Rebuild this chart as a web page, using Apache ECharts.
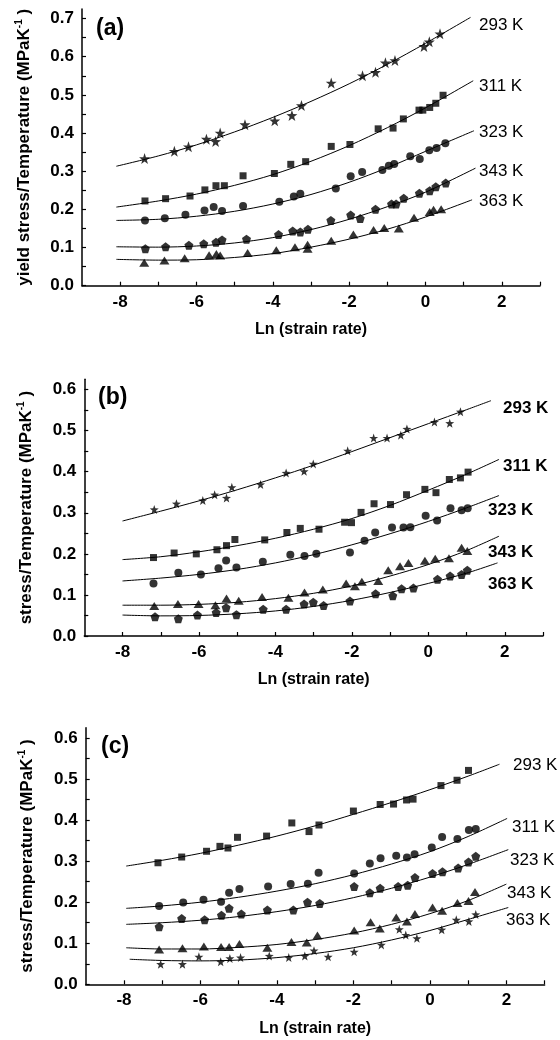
<!DOCTYPE html>
<html>
<head>
<meta charset="utf-8">
<script src="https://cdn.jsdelivr.net/npm/echarts@6/dist/echarts.min.js"></script>
<style>
  html, body { margin: 0; padding: 0; background: #fff; }
  #chart { width: 560px; height: 1040px; }
</style>
</head>
<body>
<div id="chart"></div>
<script>
// ---- Panel (a): yield stress / temperature vs ln(strain rate) ----
const a293 = [[-7.36,0.333],[-6.58,0.352],[-6.21,0.364],[-5.74,0.384],[-5.50,0.378],[-5.38,0.400],[-4.73,0.422],[-3.95,0.432],[-3.50,0.446],[-3.25,0.472],[-2.47,0.531],[-1.65,0.550],[-1.31,0.559],[-1.05,0.584],[-0.80,0.590],[-0.04,0.627],[0.10,0.639],[0.38,0.660]];
const a311 = [[-7.35,0.222],[-6.81,0.228],[-6.17,0.235],[-5.78,0.251],[-5.49,0.262],[-5.27,0.262],[-4.78,0.288],[-3.96,0.294],[-3.53,0.318],[-3.14,0.325],[-2.47,0.365],[-1.98,0.370],[-1.24,0.411],[-0.85,0.413],[-0.58,0.437],[-0.17,0.460],[-0.07,0.460],[0.11,0.467],[0.27,0.478],[0.46,0.499]];
const a323 = [[-7.35,0.171],[-6.83,0.177],[-6.29,0.186],[-5.79,0.197],[-5.55,0.206],[-5.33,0.196],[-4.78,0.209],[-3.83,0.220],[-3.45,0.234],[-3.28,0.241],[-2.35,0.255],[-1.96,0.287],[-1.66,0.298],[-1.13,0.303],[-0.96,0.314],[-0.82,0.319],[-0.40,0.339],[-0.15,0.332],[0.10,0.355],[0.29,0.361],[0.52,0.373]];
const a343 = [[-7.34,0.097],[-6.81,0.102],[-6.20,0.106],[-5.81,0.110],[-5.49,0.114],[-5.33,0.120],[-4.69,0.122],[-3.85,0.134],[-3.48,0.143],[-3.28,0.141],[-3.08,0.148],[-2.48,0.171],[-1.96,0.185],[-1.71,0.176],[-1.31,0.200],[-0.89,0.214],[-0.77,0.214],[-0.57,0.229],[-0.16,0.242],[0.11,0.249],[0.27,0.259],[0.53,0.269]];
const a363 = [[-7.37,0.060],[-6.84,0.066],[-6.31,0.072],[-5.67,0.080],[-5.48,0.083],[-5.38,0.079],[-4.66,0.086],[-3.91,0.093],[-3.42,0.101],[-3.09,0.107],[-3.09,0.097],[-2.47,0.118],[-1.89,0.134],[-1.36,0.146],[-1.08,0.151],[-0.70,0.150],[-0.30,0.178],[0.11,0.193],[0.21,0.199],[0.41,0.200]];
const a293Fit = [[-8.1,0.313],[-7,0.340],[-6,0.369],[-5,0.403],[-4,0.441],[-3,0.483],[-2,0.529],[-1,0.580],[0,0.635],[1.18,0.703]];
const a311Fit = [[-8.1,0.206],[-7,0.222],[-6,0.240],[-5,0.263],[-4,0.291],[-3,0.326],[-2,0.367],[-1,0.414],[0,0.466],[1.25,0.537]];
const a323Fit = [[-8.1,0.171],[-7,0.174],[-6,0.182],[-5,0.195],[-4,0.214],[-3,0.239],[-2,0.271],[-1,0.309],[0,0.352],[1.27,0.406]];
const a343Fit = [[-8.1,0.102],[-7,0.101],[-6,0.104],[-5,0.112],[-4,0.126],[-3,0.147],[-2,0.174],[-1,0.207],[0,0.245],[1.31,0.308]];
const a363Fit = [[-8.1,0.069],[-7,0.067],[-6,0.068],[-5,0.074],[-4,0.084],[-3,0.101],[-2,0.122],[-1,0.148],[0,0.180],[1.22,0.225]];

// ---- Panel (b) ----
const b293 = [[-7.17,0.308],[-6.59,0.322],[-5.90,0.330],[-5.59,0.344],[-5.28,0.336],[-5.14,0.362],[-4.39,0.369],[-3.72,0.397],[-3.25,0.401],[-3.01,0.419],[-2.11,0.451],[-1.43,0.482],[-1.08,0.482],[-0.72,0.489],[-0.56,0.504],[0.16,0.521],[0.56,0.518],[0.84,0.546]];
const b311 = [[-7.19,0.191],[-6.65,0.202],[-6.07,0.200],[-5.53,0.210],[-5.28,0.220],[-5.06,0.235],[-4.28,0.234],[-3.70,0.252],[-3.35,0.262],[-2.86,0.260],[-2.19,0.277],[-2.01,0.276],[-1.76,0.301],[-1.42,0.322],[-0.99,0.320],[-0.57,0.344],[-0.09,0.357],[0.20,0.349],[0.55,0.381],[0.84,0.385],[1.04,0.399]];
const b323 = [[-7.19,0.128],[-6.54,0.154],[-5.95,0.150],[-5.49,0.165],[-5.29,0.184],[-5.02,0.167],[-4.33,0.181],[-3.61,0.198],[-3.24,0.195],[-2.93,0.200],[-2.05,0.203],[-1.67,0.232],[-1.39,0.252],[-0.95,0.264],[-0.65,0.264],[-0.47,0.265],[-0.07,0.293],[0.23,0.281],[0.58,0.311],[0.87,0.306],[1.03,0.311]];
const b343 = [[-7.17,0.073],[-6.55,0.078],[-6.01,0.078],[-5.57,0.075],[-5.28,0.091],[-4.96,0.086],[-4.35,0.095],[-3.66,0.093],[-3.24,0.106],[-2.76,0.113],[-2.15,0.128],[-1.92,0.121],[-1.74,0.132],[-1.31,0.134],[-1.05,0.160],[-0.74,0.170],[-0.52,0.178],[-0.09,0.183],[0.18,0.188],[0.54,0.189],[0.87,0.215],[1.02,0.207]];
const b363 = [[-7.15,0.047],[-6.54,0.042],[-6.04,0.051],[-5.55,0.057],[-5.29,0.069],[-5.02,0.052],[-4.32,0.065],[-3.72,0.065],[-3.25,0.078],[-3.01,0.082],[-2.74,0.074],[-2.05,0.085],[-1.38,0.103],[-0.93,0.098],[-0.70,0.115],[-0.39,0.117],[0.24,0.138],[0.57,0.146],[0.87,0.150],[1.02,0.160]];
const b293Fit = [[-8,0.280],[-7,0.304],[-6,0.329],[-5,0.356],[-4,0.385],[-3,0.416],[-2,0.449],[-1,0.483],[0,0.517],[1,0.551],[1.64,0.573]];
const b311Fit = [[-8,0.186],[-7,0.193],[-6,0.205],[-5,0.220],[-4,0.238],[-3,0.260],[-2,0.286],[-1,0.318],[0,0.355],[1,0.394],[1.85,0.430]];
const b323Fit = [[-8,0.134],[-7,0.141],[-6,0.150],[-5,0.162],[-4,0.178],[-3,0.198],[-2,0.222],[-1,0.249],[0,0.279],[1,0.312],[1.85,0.342]];
const b343Fit = [[-8,0.075],[-7,0.075],[-6,0.077],[-5,0.082],[-4,0.091],[-3,0.104],[-2,0.122],[-1,0.146],[0,0.174],[1,0.208],[1.85,0.243]];
const b363Fit = [[-8,0.051],[-7,0.049],[-6,0.050],[-5,0.054],[-4,0.061],[-3,0.072],[-2,0.087],[-1,0.106],[0,0.128],[1,0.153],[1.81,0.178]];

// ---- Panel (c) ----
const c293 = [[-7.11,0.296],[-6.49,0.310],[-5.84,0.324],[-5.49,0.336],[-5.28,0.332],[-5.03,0.358],[-4.27,0.361],[-3.61,0.393],[-3.16,0.372],[-2.90,0.388],[-2.00,0.422],[-1.30,0.438],[-0.95,0.439],[-0.61,0.449],[-0.44,0.451],[0.29,0.484],[0.71,0.497],[1.01,0.521]];
const c311 = [[-7.08,0.191],[-6.45,0.199],[-5.92,0.206],[-5.46,0.201],[-5.25,0.223],[-4.98,0.232],[-4.23,0.238],[-3.64,0.244],[-3.19,0.245],[-2.91,0.272],[-1.98,0.270],[-1.57,0.294],[-1.29,0.307],[-0.88,0.313],[-0.60,0.309],[-0.40,0.317],[0.05,0.333],[0.32,0.359],[0.72,0.354],[1.02,0.376],[1.20,0.378]];
const c323 = [[-7.08,0.140],[-6.49,0.160],[-5.89,0.157],[-5.45,0.168],[-5.25,0.185],[-4.93,0.171],[-4.25,0.181],[-3.57,0.181],[-3.20,0.200],[-2.88,0.197],[-1.98,0.238],[-1.57,0.223],[-1.30,0.234],[-0.83,0.238],[-0.58,0.241],[-0.39,0.260],[0.07,0.270],[0.33,0.274],[0.74,0.283],[1.01,0.298],[1.20,0.312]];
const c343 = [[-7.08,0.085],[-6.47,0.088],[-5.91,0.092],[-5.46,0.091],[-5.25,0.091],[-4.98,0.098],[-4.25,0.089],[-3.62,0.103],[-3.22,0.102],[-2.94,0.119],[-1.98,0.131],[-1.55,0.151],[-1.31,0.136],[-0.88,0.163],[-0.60,0.153],[-0.39,0.171],[0.07,0.187],[0.32,0.179],[0.72,0.198],[1.01,0.203],[1.18,0.225]];
const c363 = [[-7.04,0.049],[-6.47,0.049],[-6.04,0.067],[-5.47,0.055],[-5.23,0.063],[-4.95,0.065],[-4.20,0.069],[-3.69,0.065],[-3.27,0.069],[-3.03,0.082],[-2.66,0.067],[-1.98,0.079],[-1.27,0.096],[-0.80,0.134],[-0.63,0.120],[-0.34,0.112],[0.31,0.133],[0.69,0.157],[1.02,0.153],[1.20,0.170]];
const c293Fit = [[-7.94,0.288],[-7,0.302],[-6,0.319],[-5,0.339],[-4,0.361],[-3,0.386],[-2,0.414],[-1,0.443],[0,0.474],[1,0.507],[1.82,0.536]];
const c311Fit = [[-7.94,0.185],[-7,0.191],[-6,0.200],[-5,0.212],[-4,0.227],[-3,0.245],[-2,0.267],[-1,0.293],[0,0.323],[1,0.360],[2.02,0.404]];
const c323Fit = [[-7.94,0.146],[-7,0.150],[-6,0.156],[-5,0.165],[-4,0.177],[-3,0.192],[-2,0.211],[-1,0.234],[0,0.261],[1,0.292],[2.05,0.328]];
const c343Fit = [[-7.94,0.089],[-7,0.086],[-6,0.086],[-5,0.090],[-4,0.097],[-3,0.109],[-2,0.125],[-1,0.146],[0,0.172],[1,0.204],[2.0,0.244]];
const c363Fit = [[-7.85,0.061],[-7,0.058],[-6,0.057],[-5,0.059],[-4,0.065],[-3,0.075],[-2,0.089],[-1,0.108],[0,0.131],[1,0.158],[2.05,0.187]];

// ---- Axis ticks and labels ----
const xTickMarks = [-8,-7,-6,-5,-4,-3,-2,-1,0,1,2,3];
const xTickLabels = [-8,-6,-4,-2,0,2];
const yTickMarksA = [0,0.05,0.1,0.15,0.2,0.25,0.3,0.35,0.4,0.45,0.5,0.55,0.6,0.65,0.7];
const yTickLabelsA = [0,0.1,0.2,0.3,0.4,0.5,0.6,0.7];
const yTickMarksBC = [0,0.05,0.1,0.15,0.2,0.25,0.3,0.35,0.4,0.45,0.5,0.55,0.6];
const yTickLabelsBC = [0,0.1,0.2,0.3,0.4,0.5,0.6];
const temps = ['293 K','311 K','323 K','343 K','363 K'];

const FONT = '"Liberation Sans", Arial, Helvetica, sans-serif';
const STAR = 'path://M50 0L61.76 33.82L97.55 34.55L69.02 56.18L79.39 90.45L50 70L20.61 90.45L30.98 56.18L2.45 34.55L38.24 33.82Z';
const PENTA = 'path://M50 0L97.55 34.55L79.39 90.45L20.61 90.45L2.45 34.55Z';
const SYM = {
  star: [STAR, 11], starS: [STAR, 9], rect: ['rect', 7], circle: ['circle', 8],
  penta: [PENTA, 9], tri: ['triangle', [10, 8]]
};

const grids = [
  { left: 82, top: 9, width: 458, height: 276.7 },
  { left: 84.3, top: 379.3, width: 458.7, height: 256.7 },
  { left: 85.7, top: 727.7, width: 458.9, height: 256.6 }
];

function xAxis(i) {
  return {
    type: 'value', gridIndex: i, min: -9, max: 3,
    axisLine: { onZero: false, lineStyle: { color: '#000', width: 1.5 } },
    axisTick: { inside: true, length: 4, customValues: xTickMarks, lineStyle: { color: '#000', width: 1.2 } },
    axisLabel: { customValues: xTickLabels, color: '#000', fontSize: 17, fontWeight: 'bold', fontFamily: FONT, margin: 8 },
    splitLine: { show: false },
    name: 'Ln (strain rate)', nameLocation: 'middle', nameGap: 36,
    nameTextStyle: { color: '#000', fontSize: 16, fontWeight: 'bold', fontFamily: FONT }
  };
}
function yAxis(i, max, marks, labels, title) {
  return {
    type: 'value', gridIndex: i, min: 0, max: max,
    axisLine: { onZero: false, lineStyle: { color: '#000', width: 1.5 } },
    axisTick: { inside: true, length: 4, customValues: marks, lineStyle: { color: '#000', width: 1.2 } },
    axisLabel: { customValues: labels, color: '#000', fontSize: 17, fontWeight: 'bold', fontFamily: FONT, margin: 8,
      formatter: v => v.toFixed(1) },
    splitLine: { show: false },
    name: '{t|' + title + ' (MPaK}{s|-1}{t| )}', nameLocation: 'middle', nameGap: 48, nameRotate: 90,
    nameTextStyle: {
      color: '#000', fontFamily: FONT,
      rich: {
        t: { fontSize: 17, fontWeight: 'bold', fontFamily: FONT, color: '#000' },
        s: { fontSize: 10, fontWeight: 'bold', fontFamily: FONT, color: '#000', verticalAlign: 'top', padding: [0, 0, 10, 0] }
      }
    }
  };
}

function pts(i, data, sym) {
  return {
    type: 'scatter', xAxisIndex: i, yAxisIndex: i, data: data,
    symbol: SYM[sym][0], symbolSize: SYM[sym][1],
    itemStyle: { color: '#000' }, silent: true, z: 3
  };
}
function fit(i, data) {
  return {
    type: 'line', xAxisIndex: i, yAxisIndex: i, data: data, smooth: 0.3,
    showSymbol: false, symbol: 'none', lineStyle: { color: '#000', width: 1 }, silent: true, z: 2
  };
}

const series = [
  pts(0, a293, 'star'), pts(0, a311, 'rect'), pts(0, a323, 'circle'), pts(0, a343, 'penta'), pts(0, a363, 'tri'),
  fit(0, a293Fit), fit(0, a311Fit), fit(0, a323Fit), fit(0, a343Fit), fit(0, a363Fit),
  pts(1, b293, 'starS'), pts(1, b311, 'rect'), pts(1, b323, 'circle'), pts(1, b343, 'tri'), pts(1, b363, 'penta'),
  fit(1, b293Fit), fit(1, b311Fit), fit(1, b323Fit), fit(1, b343Fit), fit(1, b363Fit),
  pts(2, c293, 'rect'), pts(2, c311, 'circle'), pts(2, c323, 'penta'), pts(2, c343, 'tri'), pts(2, c363, 'starS'),
  fit(2, c293Fit), fit(2, c311Fit), fit(2, c323Fit), fit(2, c343Fit), fit(2, c363Fit)
];

// Temperature labels beside each fitted curve, and panel letters
function txt(x, y, s, size, bold) {
  return { type: 'text', x: x, y: y, silent: true,
    style: { text: s, fill: '#000', font: (bold ? 'bold ' : '') + size + 'px ' + FONT, verticalAlign: 'middle', align: 'left' } };
}
const labelPosA = [[479,25],[479,86],[479,132],[479,171],[479,201]];
const labelPosB = [[503,408],[503,466],[488,510],[488,552],[488,584]];
const labelPosC = [[513,765],[512,827],[510,860],[507,893],[506,920]];
const graphic = [];
temps.forEach((t, k) => {
  graphic.push(txt(labelPosA[k][0], labelPosA[k][1], t, 17, false));
  graphic.push(txt(labelPosB[k][0], labelPosB[k][1], t, 17, true));
  graphic.push(txt(labelPosC[k][0], labelPosC[k][1], t, 17, false));
});
graphic.push(txt(96, 29, '(a)', 23, true));
graphic.push(txt(98, 398, '(b)', 23, true));
graphic.push(txt(101, 747, '(c)', 23, true));

const chart = echarts.init(document.getElementById('chart'), null, { renderer: 'canvas' });
chart.setOption({
  animation: false,
  backgroundColor: '#fff',
  grid: grids.map(g => Object.assign({ containLabel: false, outerBoundsMode: 'none' }, g)),
  xAxis: [xAxis(0), xAxis(1), xAxis(2)],
  yAxis: [
    yAxis(0, 0.725, yTickMarksA, yTickLabelsA, 'yield stress/Temperature'),
    yAxis(1, 0.625, yTickMarksBC, yTickLabelsBC, 'stress/Temperature'),
    yAxis(2, 0.625, yTickMarksBC, yTickLabelsBC, 'stress/Temperature')
  ],
  series: series,
  graphic: graphic
});
</script>
</body>
</html>
